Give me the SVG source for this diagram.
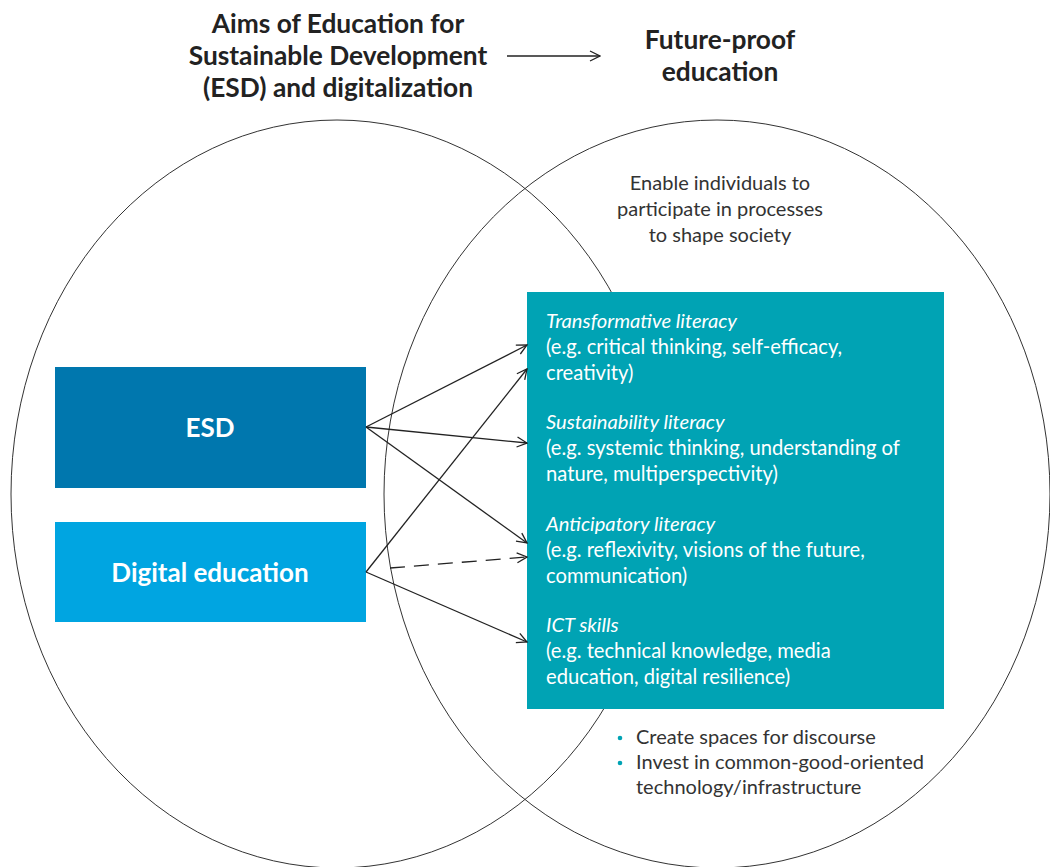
<svg xmlns="http://www.w3.org/2000/svg" width="1050" height="867" viewBox="0 0 1050 867">
<defs>
<style>
.title{font-family:Lato,"Liberation Sans",sans-serif;font-weight:bold;font-size:26.3px;fill:#222;text-anchor:middle}
.body{font-family:Lato,"Liberation Sans",sans-serif;font-size:20px;fill:#333}
.wt{font-family:Lato,"Liberation Sans",sans-serif;font-size:20.2px;fill:#fff}
.it{font-style:italic}
.lbl{font-family:Lato,"Liberation Sans",sans-serif;font-weight:bold;font-size:26px;fill:#fff;text-anchor:middle}
.ell{fill:none;stroke:#333;stroke-width:1}
.con{fill:none;stroke:#222;stroke-width:1.3;marker-end:url(#ah)}
</style>
<marker id="ah" viewBox="0 0 12 12" refX="11" refY="6" markerWidth="12" markerHeight="12" markerUnits="userSpaceOnUse" orient="auto">
<path d="M1,1 L11,6 L1,11" fill="none" stroke="#222" stroke-width="1.3"/>
</marker>
</defs>
<rect width="1050" height="867" fill="#fff"/>
<g id="ellipses">
<ellipse class="ell" cx="337" cy="494" rx="326" ry="374"/>
<ellipse class="ell" cx="717" cy="494" rx="333" ry="374"/>
</g>
<g id="title">
<text class="title" x="338" y="33">Aims of Education for</text>
<text class="title" x="338" y="65">Sustainable Development</text>
<text class="title" x="338" y="97">(ESD) and digitalization</text>
<line class="con" x1="507" y1="56" x2="600" y2="56"/>
<text class="title" x="720" y="49">Future-proof</text>
<text class="title" x="720" y="81">education</text>
</g>
<g id="enable">
<text class="body" x="720" y="190" text-anchor="middle">Enable individuals to</text>
<text class="body" x="720" y="216" text-anchor="middle">participate in processes</text>
<text class="body" x="720" y="242" text-anchor="middle">to shape society</text>
</g>
<g id="esd">
<rect x="55" y="367" width="311" height="121" fill="#0077AE"/>
<text class="lbl" x="210" y="437">ESD</text>
</g>
<g id="digital">
<rect x="55" y="522" width="311" height="100" fill="#00A5E1"/>
<text class="lbl" x="210" y="582">Digital education</text>
</g>
<g id="literacies">
<rect x="527" y="292" width="417" height="417" fill="#00A3B4"/>
<text class="wt it" x="546" y="328">Transformative literacy</text>
<text class="wt" x="546" y="354">(e.g. critical thinking, self-efficacy,</text>
<text class="wt" x="546" y="380">creativity)</text>
<text class="wt it" x="546" y="429">Sustainability literacy</text>
<text class="wt" x="546" y="455">(e.g. systemic thinking, understanding of</text>
<text class="wt" x="546" y="481">nature, multiperspectivity)</text>
<text class="wt it" x="546" y="531">Anticipatory literacy</text>
<text class="wt" x="546" y="557">(e.g. reflexivity, visions of the future,</text>
<text class="wt" x="546" y="583">communication)</text>
<text class="wt it" x="546" y="632">ICT skills</text>
<text class="wt" x="546" y="658">(e.g. technical knowledge, media</text>
<text class="wt" x="546" y="684">education, digital resilience)</text>
</g>
<g id="bullets">
<circle cx="620" cy="738" r="2.3" fill="#00A3B4"/>
<text class="body" x="636" y="744">Create spaces for discourse</text>
<circle cx="620" cy="763" r="2.3" fill="#00A3B4"/>
<text class="body" x="636" y="769">Invest in common-good-oriented</text>
<text class="body" x="636" y="794">technology/infrastructure</text>
</g>
<g id="connectors">
<line class="con" x1="366" y1="427" x2="527" y2="345"/>
<line class="con" x1="366" y1="427" x2="527" y2="443"/>
<line class="con" x1="366" y1="427" x2="527" y2="543"/>
<line class="con" x1="366" y1="572" x2="527" y2="369"/>
<line class="con" x1="390" y1="568" x2="527" y2="557" stroke-dasharray="15,9"/>
<line class="con" x1="366" y1="572" x2="527" y2="642"/>
</g>
</svg>
